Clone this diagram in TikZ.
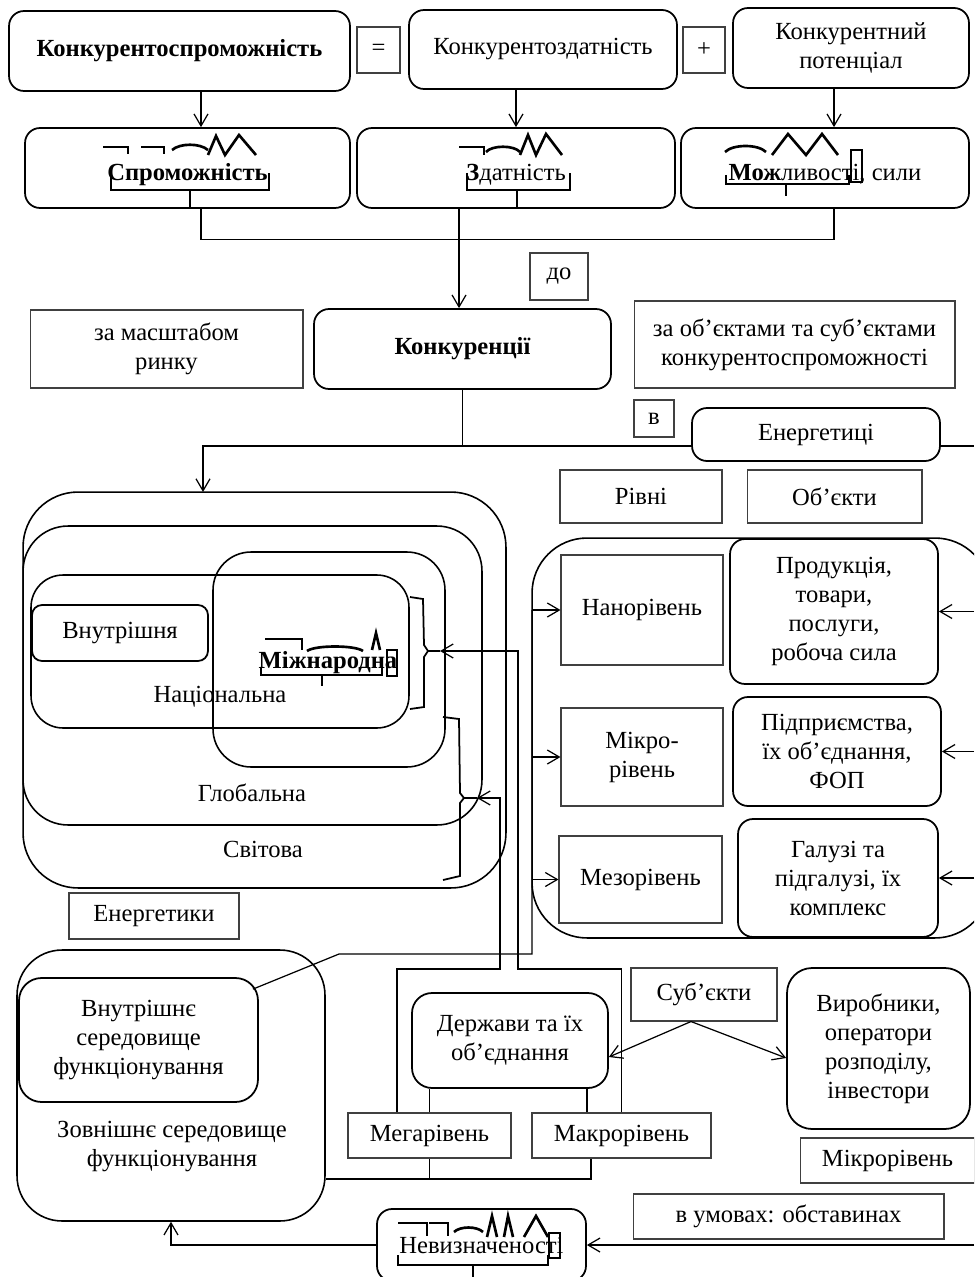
\documentclass[tikz,border=0pt]{standalone}
\usepackage{fontspec}
\setmainfont{Liberation Serif}
\usetikzlibrary{arrows.meta}

\tikzset{
  rbox/.style={draw, rounded corners=0.3cm, line width=1pt, align=center, inner sep=2pt},
  sbox/.style={draw=black!75, line width=0.6pt, align=center, inner sep=2pt},
  cont/.style={draw, line width=0.9pt},
  link/.style={line width=0.7pt},
  morph/.style={line width=1.5pt},
  lowtext/.style={text height=0.55cm, text depth=0.05cm},
}

\begin{document}
\fontsize{14}{16.5}\selectfont
\begin{tikzpicture}[x=0.02cm, y=-0.02cm, >={Straight Barb[length=2.4mm,width=2.8mm]}]
\useasboundingbox (0,0) rectangle (974,1277);
\clip (0,0) rectangle (974,1277);

% Nodes: top rows
\node[rbox, minimum width=6.82cm, minimum height=1.6cm] (konkspr) at (179.5,51) {\textbf{Конкурентоспроможність}};
\node[sbox, minimum width=0.86cm, minimum height=0.92cm] (eq) at (378.5,50) {=};
\node[rbox, minimum width=5.36cm, minimum height=1.58cm] (konkzd) at (543,49.5) {Конкурентоздатність};
\node[sbox, minimum width=0.84cm, minimum height=0.92cm] (plus) at (704,50) {+};
\node[rbox, minimum width=4.72cm, minimum height=1.6cm] (konkpot) at (851,48) {Конкурентний\\потенціал};

\node[rbox, lowtext, minimum width=6.5cm, minimum height=1.6cm] (sprom) at (187.5,168) {\textbf{Спроможність}};
\node[rbox, lowtext, minimum width=6.36cm, minimum height=1.6cm] (zdat) at (516,168) {\textbf{З}датність};
\node[rbox, lowtext, minimum width=5.76cm, minimum height=1.6cm] (mozh) at (825,168) {\textbf{Мож}ливості, сили};

\node[sbox, minimum width=1.16cm, minimum height=0.94cm] (do) at (559,276.5) {до};
\node[sbox, minimum width=5.46cm, minimum height=1.56cm] (masht) at (166.5,349) {за масштабом\\ринку};
\node[rbox, minimum width=5.94cm, minimum height=1.6cm] (konkur) at (462.5,349) {\textbf{Конкуренції}};
\node[sbox, minimum width=6.42cm, minimum height=1.74cm] (obj) at (794.5,344.5) {за об’єктами та суб’єктами\\конкурентоспроможності};
\node[sbox, minimum width=0.8cm, minimum height=0.74cm] (v) at (654,418.5) {в};
\node[rbox, minimum width=4.96cm, minimum height=1.06cm] (energ) at (816,434.5) {Енергетиці};
\node[sbox, minimum width=3.24cm, minimum height=1.06cm] (rivni) at (641,496.5) {Рівні};
\node[sbox, minimum width=3.5cm, minimum height=1.06cm] (obyekty) at (834.5,496.5) {Об’єкти};

% Nodes: market scale
\node[cont, rounded corners=1.1cm, minimum width=9.66cm, minimum height=7.92cm] (svitova) at (264.5,690) {};
\node[cont, rounded corners=0.9cm, minimum width=9.18cm, minimum height=5.98cm] (globalna) at (252.5,675.5) {};
\node[cont, rounded corners=0.76cm, minimum width=4.64cm, minimum height=4.3cm] (mizhn) at (329,659.5) {};
\node[cont, rounded corners=0.64cm, minimum width=7.56cm, minimum height=3.06cm] (nats) at (220,651.5) {};
\node[rbox, rounded corners=0.2cm, minimum width=3.52cm, minimum height=1.12cm] (vnutr) at (120,633) {Внутрішня};
\node (natslabel) at (220,697) {Національна};
\node (globlabel) at (252,793) {Глобальна};
\node (svitlabel) at (263,849) {Світова};
\node (mizhnlabel) at (328,663) {\textbf{Міжнародна}};

% Nodes: levels and objects
\node[cont, rounded corners=1.1cm, minimum width=9.16cm, minimum height=8cm] (objbox) at (761,738) {};
\node[sbox, minimum width=3.24cm, minimum height=2.2cm] (nano) at (642,610) {Нанорівень};
\node[rbox, minimum width=4.16cm, minimum height=2.9cm] (prod) at (834,611.5) {Продукція,\\товари,\\послуги,\\робоча сила};
\node[sbox, minimum width=3.24cm, minimum height=1.96cm] (mikro) at (642,757) {Мікро-\\рівень};
\node[rbox, minimum width=4.16cm, minimum height=2.18cm] (pidpr) at (837,751.5) {Підприємства,\\їх об’єднання,\\ФОП};
\node[sbox, minimum width=3.26cm, minimum height=1.74cm] (mezo) at (640.5,879.5) {Мезорівень};
\node[rbox, minimum width=4cm, minimum height=2.36cm] (galuzi) at (838,878) {Галузі та\\підгалузі, їх\\комплекс};

% Nodes: bottom part
\node[sbox, minimum width=3.4cm, minimum height=0.92cm] (energetyky) at (154,916) {Енергетики};
\node[cont, rounded corners=0.9cm, minimum width=6.16cm, minimum height=5.42cm] (zovn) at (171,1085.5) {};
\node[rbox, rounded corners=0.45cm, minimum width=4.78cm, minimum height=2.48cm] (vnutrsered) at (138.5,1040) {Внутрішнє\\середовище\\функціонування};
\node[align=center] (zovnlabel) at (172,1146) {Зовнішнє середовище\\функціонування};
\node[rbox, rounded corners=0.4cm, minimum width=3.92cm, minimum height=1.9cm] (derzh) at (510,1040.5) {Держави та їх\\об’єднання};
\node[sbox, minimum width=3.26cm, minimum height=0.9cm] (mega) at (429.5,1135.5) {Мегарівень};
\node[sbox, minimum width=3.58cm, minimum height=0.9cm] (makro) at (621.5,1135.5) {Макрорівень};
\node[sbox, minimum width=2.92cm, minimum height=1.06cm] (subj) at (704,994.5) {Суб’єкти};
\node[rbox, rounded corners=0.5cm, minimum width=3.66cm, minimum height=3.22cm] (vyrob) at (878.5,1048.5) {Виробники,\\оператори\\розподілу,\\інвестори};
\node[sbox, minimum width=3.5cm, minimum height=0.9cm] (mikroriv) at (887.5,1160.5) {Мікрорівень};
\node[sbox, minimum width=6.22cm, minimum height=0.9cm] (umovy) at (788.5,1216.5) {в умовах: обставинах};
\node[rbox, minimum width=4.18cm, minimum height=1.44cm] (nevyzn) at (481.5,1245) {Невизначеності};

% Coordinates
\coordinate (edge) at (974,0);
\coordinate (split) at (460,446);
\coordinate (svtop) at (203,492);
\coordinate (lbus) at (532,605);
\coordinate (lbusend) at (532,954);
\coordinate (kink) at (339,954);
\coordinate (tip1) at (440,651);
\coordinate (tip2) at (477,798);
\coordinate (r1) at (518,969);
\coordinate (r2) at (500,969);
\coordinate (bbus) at (323,1179);

% Edges: top
\draw[link, ->] ([xshift=0.43cm]konkspr.south) -- ([xshift=0.43cm]konkspr.south |- sprom.north);
\draw[link, ->] (konkzd.south -| zdat.north) -- (zdat.north);
\draw[link, ->] ([xshift=-0.34cm]konkpot.south) -- ([xshift=-0.34cm]konkpot.south |- mozh.north);
\draw[link] ([xshift=0.27cm]sprom.south) -- ++(0,31) -| ([xshift=0.18cm]mozh.south);
\draw[link, ->] ([xshift=-1.14cm]zdat.south) -- ([xshift=-1.14cm]zdat.south |- konkur.north);
\draw[link] (konkur.south) -- (konkur.south |- split);
\draw[link, ->] (energ.west |- split) -| (svtop);
\draw[link] (energ.east |- split) -- (split -| edge);

% Edges: levels and objects
\draw[link, ->] (lbus |- nano.west) -- (nano.west);
\draw[link, ->] (lbus |- mikro.west) -- (mikro.west);
\draw[link, ->] (lbus |- mezo.west) -- (mezo.west);
\draw[link, ->] (prod.east -| edge) -- (prod.east);
\draw[link, ->] (pidpr.east -| edge) -- (pidpr.east);
\draw[link, ->] (galuzi.east -| edge) -- (galuzi.east);
\draw[link] ([xshift=-0.12cm,yshift=-0.24cm]vnutrsered.north east) -- (kink) -- (lbusend) -- (lbus |- nano.west);

% Brackets
\draw[link, line width=1pt] (410,597) -- (423,599) -- (424,645) -- (428,651) -- (tip1);
\draw[link, line width=1pt] (428,651) -- (424,657) -- (424,707) -- (410,709);
\draw[link, line width=1pt] (443,717) -- (459,719) -- (460,793) -- (464,798) -- (tip2);
\draw[link, line width=1pt] (464,798) -- (460,803) -- (460,876) -- (443,880);
\draw[link, ->] (makro.north) |- (r1) |- (tip1);
\draw[link, ->] ([xshift=-0.65cm]mega.north) |- (r2) |- (tip2);

% Edges: bottom
\draw[link] (mega.north) -- (mega.north |- derzh.south);
\draw[link] ([xshift=-0.69cm]makro.north) -- ([xshift=-0.69cm]makro.north |- derzh.south);
\draw[link] (mega.south) -- (mega.south |- bbus);
\draw[link] (zovn.east |- bbus) -| ([xshift=-0.61cm]makro.south);
\draw[link, ->] ([xshift=-0.26cm]subj.south) -- ([yshift=-0.33cm]derzh.east);
\draw[link, ->] ([xshift=-0.26cm]subj.south) -- ([yshift=-0.19cm]vyrob.west);
\draw[link, ->] (nevyzn.west) -| (zovn.south);
\draw[link, ->] (nevyzn.east -| edge) -- (nevyzn.east);

% Morpheme marks
\draw[morph] (103,147) -- (128,147) -- (128,154);
\draw[morph] (141,147) -- (164,147) -- (164,154);
\draw[morph] (172,150) .. controls (180,143) and (200,143) .. (208,150);
\draw[morph] (208,155) -- (216,136) -- (225,155) -- (239,135) -- (256,155);
\draw[morph] (111,173) -- (111,190) -- (269,190) -- (269,173);
\draw[morph] (190,190) -- (190,208);

\draw[morph] (459,147) -- (484,147) -- (484,155);
\draw[morph] (486,152) .. controls (492,145) and (514,145) .. (520,152);
\draw[morph] (520,155) -- (528,135) -- (536,155) -- (546,134) -- (562,155);
\draw[morph] (467,173) -- (467,190) -- (570,190) -- (570,173);
\draw[morph] (517,190) -- (517,207);

\draw[morph] (725,152) .. controls (733,144) and (758,144) .. (766,152);
\draw[morph] (772,155) -- (788,134) -- (806,155) -- (822,134) -- (838,155);
\draw[line width=1pt] (851,150) rectangle (862,182);
\draw[morph] (726,175) -- (726,184) -- (849,184) -- (849,175);
\draw[morph] (786,184) -- (786,196);

\draw[morph] (265,639) -- (302,639) -- (302,650);
\draw[morph] (307,651) .. controls (315,645) and (355,645) .. (363,651);
\draw[morph] (372,650) -- (376,633) -- (380,650);
\draw[line width=1pt] (387,650) rectangle (397,676);
\draw[morph] (261,667) -- (261,675) -- (382,675) -- (382,667);
\draw[morph] (322,675) -- (322,686);

\draw[morph] (398,1223) -- (427,1223) -- (427,1236);
\draw[morph] (429,1223) -- (448,1223) -- (448,1236);
\draw[morph] (454,1232) .. controls (460,1226) and (477,1226) .. (483,1232);
\draw[morph] (487,1237) -- (492,1216) -- (497,1237);
\draw[morph] (504,1237) -- (508,1216) -- (513,1237);
\draw[morph] (524,1237) -- (536,1216) -- (548,1237);
\draw[line width=1pt] (549,1233) rectangle (560,1258);
\draw[morph] (398,1255) -- (398,1265) -- (548,1265) -- (548,1255);
\draw[morph] (473,1265) -- (473,1280);
\end{tikzpicture}
\end{document}
